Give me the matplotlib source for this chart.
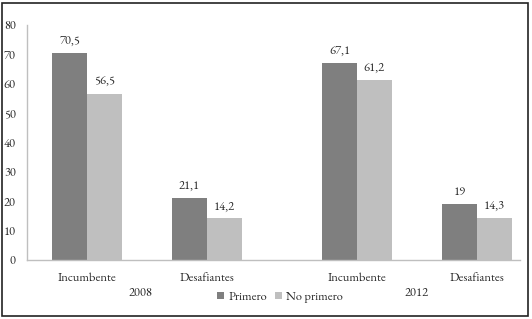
import matplotlib
matplotlib.use("Agg")
import matplotlib.pyplot as plt
from matplotlib.patches import Rectangle

categories = ["Incumbente", "Desafiantes", "Incumbente", "Desafiantes"]
years = ["2008", "2012"]
primero = [70.5, 21.1, 67.1, 19]
no_primero = [56.5, 14.2, 61.2, 14.3]
primero_labels = ["70,5", "21,1", "67,1", "19"]
no_primero_labels = ["56,5", "14,2", "61,2", "14,3"]
yticks = [0, 10, 20, 30, 40, 50, 60, 70, 80]

W, H = 532, 319
plt.rcParams['font.family'] = ['EB Garamond', 'Liberation Serif', 'DejaVu Serif']
FS = 9
TC = "#2a2a2a"
fig = plt.figure(figsize=(W / 100, H / 100), dpi=100)

# outer frame
fig.patches.append(Rectangle((2 / W, 3 / H), 526 / W, 313 / H, transform=fig.transFigure,
                             fill=False, edgecolor="#222222", linewidth=1.2))

ax = fig.add_axes([27 / W, (H - 260) / H, (520 - 27) / W, (260 - 25) / H])
pos = [0, 1, 2.25, 3.25]
bw = 0.29
c1, c2 = "#7f7f7f", "#bfbfbf"
ax.bar([p - bw / 2 for p in pos], primero, width=bw, color=c1, label="Primero")
ax.bar([p + bw / 2 for p in pos], no_primero, width=bw, color=c2, label="No primero")
for p, v, t in zip(pos, primero, primero_labels):
    ax.text(p - bw / 2, v + 2.0, t, ha="center", va="bottom", fontsize=FS, color=TC)
for p, v, t in zip(pos, no_primero, no_primero_labels):
    ax.text(p + bw / 2, v + 2.0, t, ha="center", va="bottom", fontsize=FS, color=TC)

ax.set_xlim(-0.5, 3.61)
ax.set_ylim(0, 80)
ax.set_yticks(yticks)
ax.set_yticklabels([str(t) for t in yticks], fontsize=FS, color=TC)
ax.tick_params(axis="y", length=0, pad=8)
ax.set_xticks(pos)
ax.set_xticklabels(categories, fontsize=FS, color=TC)
ax.tick_params(axis="x", length=0, pad=9)
for s in ["top", "right"]:
    ax.spines[s].set_visible(False)
for s in ["left", "bottom"]:
    ax.spines[s].set_color("#bfbfbf")
    ax.spines[s].set_linewidth(1.0)

# year labels
ax.text((pos[0] + pos[1]) / 2 - 0.05, -11.3, years[0], ha="center", va="center", fontsize=FS,
        color=TC, transform=ax.transData, clip_on=False)
ax.text((pos[2] + pos[3]) / 2, -11.3, years[1], ha="center", va="center", fontsize=FS,
        color=TC, transform=ax.transData, clip_on=False)

leg = fig.legend(loc="center", bbox_to_anchor=(280 / W, (H - 297) / H), ncol=2, frameon=False,
                 fontsize=FS, handlelength=0.55, handleheight=0.55, handletextpad=0.35,
                 columnspacing=0.6, labelcolor=TC)

fig.savefig("out.png", dpi=100)
